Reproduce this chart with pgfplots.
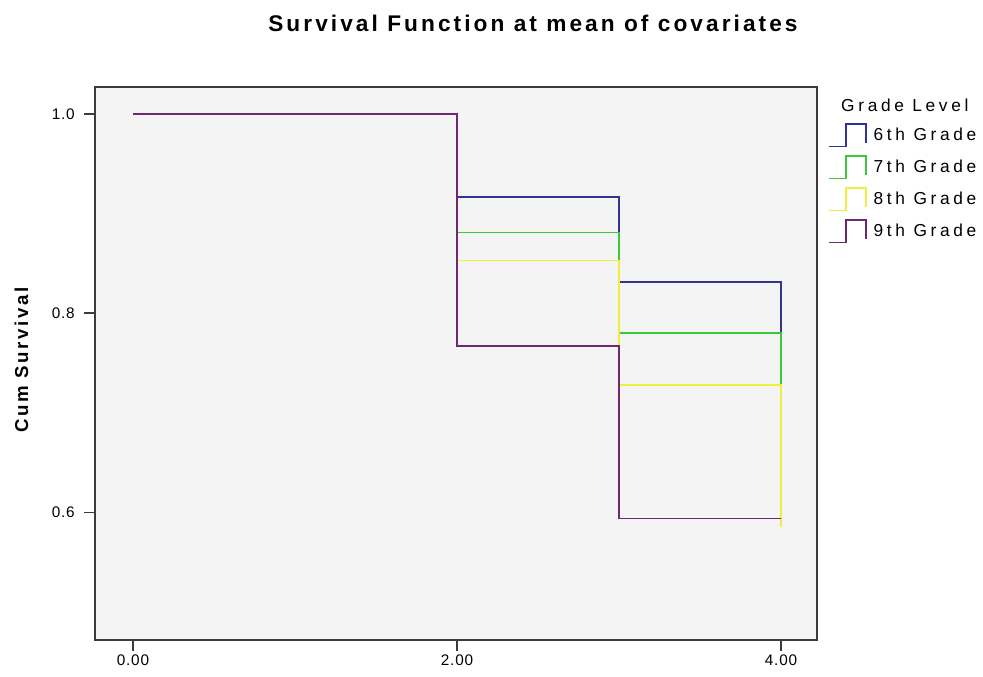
\documentclass[border=0pt]{standalone}
\usepackage{pgfplots}
\pgfplotsset{compat=1.18}
\usepackage{fontspec}
\setmainfont{Liberation Sans}
\newfontfamily\titlefont[LetterSpace=13.5]{Liberation Sans}
\newfontfamily\labfont[LetterSpace=14]{Liberation Sans}
\newfontfamily\tickfont[LetterSpace=5]{Liberation Sans}
\newfontfamily\legfont[LetterSpace=21]{Liberation Sans}

\definecolor{g6}{RGB}{51,51,150}
\definecolor{g7}{RGB}{60,200,60}
\definecolor{g8}{RGB}{238,238,60}
\definecolor{g9}{RGB}{110,40,115}
\definecolor{frame}{RGB}{60,60,60}
\definecolor{bg}{RGB}{244,244,244}

\begin{document}
\begin{tikzpicture}
	\begin{axis}[
		name=ax,
		scale only axis,
		width=541.5pt,
		height=415pt,
		xmin=-0.2346, xmax=4.222,
		ymin=0.472, ymax=1.0274,
		xtick={0,2,4},
		xticklabels={0.00,2.00,4.00},
		ytick={0.6,0.8,1.0},
		yticklabels={0.6,0.8,1.0},
		xtick pos=lower,
		ytick pos=left,
		tick align=outside,
		major tick length=8.25pt,
		tick style={frame, line width=1.1pt},
		axis line style={frame, line width=1.5pt},
		axis background/.style={fill=bg},
		/pgf/number format/assume math mode=true,
		ticklabel style={font=\tickfont\fontsize{11.5}{13}\selectfont, inner sep=0pt},
		yticklabel style={xshift=-6.75pt},
		xticklabel style={yshift=-3pt},
		title={Survival Function at mean of covariates},
		title style={at={(axis description cs:0.6066,1.0844)}, anchor=base,
			inner sep=0pt, font=\titlefont\bfseries\fontsize{17}{19}\selectfont},
		ylabel={Cum Survival},
		ylabel style={at={(axis description cs:-0.1018,0.506)}, anchor=center,
			inner sep=0pt, font=\labfont\bfseries\fontsize{14}{16}\selectfont},
		legend cell align=left,
		legend style={at={(axis description cs:1.0152,0.9339)}, anchor=north west,
			draw=none, fill=none, inner sep=0pt, outer sep=0pt,
			nodes={inner sep=0pt},
			row sep=5.9pt,
			/tikz/every odd column/.style={column sep=5.25pt},
			font=\legfont\fontsize{13}{15}\selectfont},
		legend image code/.code={
			\draw[#1, fill=none] (0pt,-8.4pt) -- (12.75pt,-8.4pt)
				-- (12.75pt,8.4pt) -- (27.75pt,8.4pt) -- (27.75pt,-6pt);
		},
		extra description/.code={
			\node[anchor=base west, inner sep=0pt, font=\legfont\fontsize{13}{15}\selectfont]
				at (1.0332,0.956) {Grade Level};
		},
	]

	\addplot[g6, line width=1.3pt, const plot] coordinates {
		(0,1.0) (2,0.917) (3,0.831) (4,0.780)
	};
	\addplot[g7, line width=1.3pt, const plot] coordinates {
		(0,1.0) (2,0.881) (3,0.780) (4,0.728)
	};
	\addplot[g8, line width=1.3pt, const plot] coordinates {
		(0,1.0) (2,0.853) (3,0.728) (4,0.585)
	};
	\addplot[g9, line width=1.3pt, const plot] coordinates {
		(0,1.0) (2,0.767) (3,0.594) (4,0.594)
	};

	\legend{6th Grade, 7th Grade, 8th Grade, 9th Grade}
	\end{axis}
	\pgfresetboundingbox
	\path[use as bounding box] ([xshift=-71.25pt,yshift=-27.75pt]ax.south west)
		rectangle ([xshift=124.5pt,yshift=65pt]ax.north east);
\end{tikzpicture}
\end{document}
